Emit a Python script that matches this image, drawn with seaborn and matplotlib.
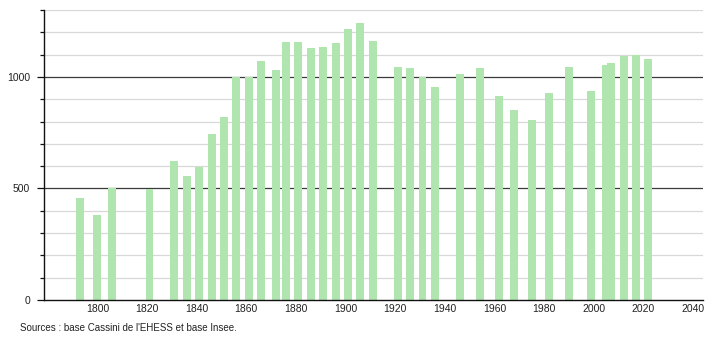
import matplotlib
matplotlib.use("Agg")
import matplotlib.pyplot as plt
import seaborn as sns
import pandas as pd

years = [1793, 1800, 1806, 1821, 1831, 1836, 1841, 1846, 1851, 1856, 1861, 1866,
         1872, 1876, 1881, 1886, 1891, 1896, 1901, 1906, 1911, 1921, 1926, 1931,
         1936, 1946, 1954, 1962, 1968, 1975, 1982, 1990, 1999, 2005, 2007, 2012,
         2017, 2022]
population = [459, 382, 500, 497, 624, 558, 596, 745, 819, 1001, 1000, 1073,
              1033, 1158, 1158, 1131, 1133, 1151, 1217, 1241, 1163, 1043, 1042, 1000,
              955, 1015, 1042, 915, 853, 808, 929, 1046, 938, 1052, 1064, 1093,
              1097, 1081]
xticks = [1800, 1820, 1840, 1860, 1880, 1900, 1920, 1940, 1960, 1980, 2000, 2020, 2040]
yticks_major = [0, 500, 1000]
source_text = "Sources : base Cassini de l'EHESS et base Insee."

df = pd.DataFrame({"year": years, "pop": population})

sns.set_theme(style="white")
plt.rcParams['font.family'] = ['Liberation Sans', 'DejaVu Sans']

fig = plt.figure(figsize=(7.1, 3.4), dpi=100)
ax = fig.add_axes([44 / 710, 40 / 340, 659 / 710, 290 / 340])

# grid lines
for v in range(100, 1301, 100):
    if v % 500 == 0:
        ax.axhline(v, color="#3a3a3a", lw=0.9, zorder=0)
    else:
        ax.axhline(v, color="#d8d8d8", lw=0.9, zorder=0)

sns.barplot(data=df, x="year", y="pop", native_scale=True, width=1.6,
            color="#b0e5b0", saturation=1, linewidth=0, ax=ax, zorder=2)

ax.set_xlim(1778.5, 2044)
ax.set_ylim(0, 1300)
ax.set_xlabel("")
ax.set_ylabel("")
ax.set_xticks(xticks)
ax.set_xticklabels([str(t) for t in xticks], fontsize=7.5, color="#222222")
ax.set_yticks(yticks_major)
ax.set_yticklabels([str(t) for t in yticks_major], fontsize=7.5, color="#222222")
ax.set_yticks(list(range(100, 1301, 100)), minor=True)
ax.tick_params(axis="x", length=0, pad=3)
ax.tick_params(axis="y", which="major", length=5, width=0.9, color="#111111", pad=5, left=True)
ax.tick_params(axis="y", which="minor", length=3, width=0.9, color="#111111", left=True)

for s in ["top", "right"]:
    ax.spines[s].set_visible(False)
for s in ["left", "bottom"]:
    ax.spines[s].set_color("#111111")
    ax.spines[s].set_linewidth(1.0)

fig.text(20 / 710, 1 - 328 / 340, source_text, fontsize=7, color="#222222",
         va="center", ha="left")

fig.savefig("out.png", dpi=100, facecolor="white")
